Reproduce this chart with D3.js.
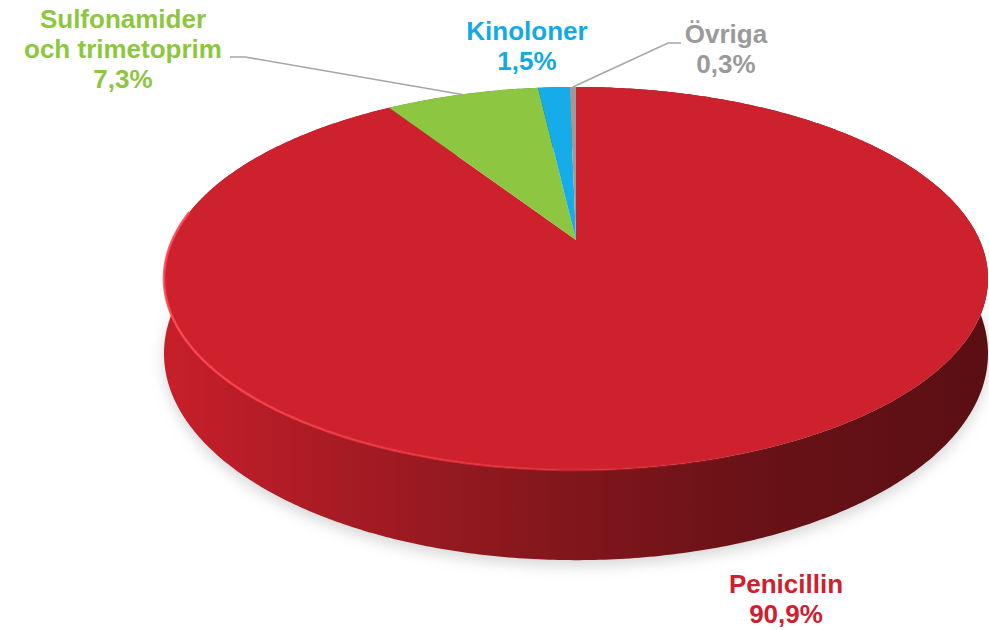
<!DOCTYPE html>
<html>
<head>
<meta charset="utf-8">
<script src="https://cdn.jsdelivr.net/npm/d3@7"></script>
<style>
  body { margin: 0; background: #fff; }
  text { font-family: "Liberation Sans", Arial, sans-serif; font-weight: bold; }
</style>
</head>
<body>
<div id="pie"></div>
<script>
// data
var categories = ["Penicillin", "Sulfonamider och trimetoprim", "Kinoloner", "Övriga"];
var values = [90.9, 7.3, 1.5, 0.3];
var valueLabels = ["90,9%", "7,3%", "1,5%", "0,3%"];

var colors = ["#cd222e", "#8dc641", "#16acea", "#9b9b9b"];
var labelColors = ["#d0202e", "#8dc63f", "#14a9e4", "#9a9a9a"];

var width = 989, height = 630;

// tilted disc: simple perspective mapping of unit circle
var view = { cx: 576, cy: 240, A: 403.6, B: 183.8, p: -0.201, depth: 72 };

function project(a, drop) {
    var u = Math.sin(a), v = -Math.cos(a);
    var k = 1 / (1 + view.p * v);
    return [view.cx + view.A * u * k,
            view.cy + view.B * v * k + (drop ? view.depth * k : 0)];
}

// label layout
var labelPos = [
    { x: 786, y: 593, lines: ["Penicillin"], leader: null },
    { x: 123, y: 28, lines: ["Sulfonamider", "och trimetoprim"], leader: [[230, 57], [245, 57]] },
    { x: 527, y: 40, lines: ["Kinoloner"], leader: null },
    { x: 726, y: 43, lines: ["Övriga"], leader: [[681, 43], [668, 43]] }
];

var svg = d3.select("#pie")
    .append("svg")
    .attr("width", width)
    .attr("height", height);

var defs = svg.append("defs");

defs.append("filter")
    .attr("id", "blur")
    .attr("x", "-20%").attr("y", "-20%")
    .attr("width", "140%").attr("height", "140%")
    .append("feGaussianBlur")
    .attr("stdDeviation", 7);

var sideGrad = defs.append("linearGradient")
    .attr("id", "side-red")
    .attr("gradientUnits", "userSpaceOnUse")
    .attr("x1", 163).attr("x2", 989).attr("y1", 0).attr("y2", 0);
[[0, "#c71f2a"], [0.2, "#aa1b24"], [0.45, "#86171d"], [0.7, "#6a1217"], [1, "#5a0f13"]]
    .forEach(function (s) {
        sideGrad.append("stop").attr("offset", s[0]).attr("stop-color", s[1]);
    });

var rimGrad = defs.append("linearGradient")
    .attr("id", "rim")
    .attr("gradientUnits", "userSpaceOnUse")
    .attr("x1", 163).attr("x2", 989).attr("y1", 0).attr("y2", 0);
[[0, "#ff4a55", 0.9], [0.45, "#f0323d", 0.6], [0.75, "#e02a35", 0.0], [1, "#e02a35", 0]]
    .forEach(function (s) {
        rimGrad.append("stop").attr("offset", s[0])
            .attr("stop-color", s[1]).attr("stop-opacity", s[2]);
    });

var pie = d3.pie().sort(null).startAngle(0).endAngle(2 * Math.PI);
var arcs = pie(values);

function arcPoints(a0, a1, drop) {
    var n = Math.max(2, Math.ceil((a1 - a0) / 0.01));
    var s = d3.scaleLinear().domain([0, n]).range([a0, a1]);
    return d3.range(n + 1).map(function (i) { return project(s(i), drop); });
}

var line = d3.line();

// soft shadow under the disc
var shadowPts = arcPoints(Math.PI * 0.35, Math.PI * 1.65, true)
    .map(function (p) { return [p[0], p[1] + 6]; });
svg.append("path")
    .attr("d", line(shadowPts) + "Z")
    .attr("fill", "#b8b8b8")
    .attr("opacity", 0.55)
    .attr("filter", "url(#blur)");

// side walls
svg.selectAll(".side")
    .data(arcs)
    .enter()
    .append("path")
    .attr("class", "side")
    .attr("d", function (d) {
        var top = arcPoints(d.startAngle, d.endAngle, false);
        var bot = arcPoints(d.startAngle, d.endAngle, true).reverse();
        return line(top.concat(bot)) + "Z";
    })
    .attr("fill", function (d, i) {
        return i === 0 ? "url(#side-red)" : d3.color(colors[i]).darker(1.2);
    });

// top surface
svg.selectAll(".slice")
    .data(arcs)
    .enter()
    .append("path")
    .attr("class", "slice")
    .attr("d", function (d) {
        var pts = [[view.cx, view.cy]].concat(arcPoints(d.startAngle, d.endAngle, false));
        return line(pts) + "Z";
    })
    .attr("fill", function (d, i) { return colors[i]; });

// rim highlight along the front edge
svg.append("path")
    .attr("d", line(arcPoints(Math.PI * 0.45, Math.PI * 1.55, false)))
    .attr("fill", "none")
    .attr("stroke", "url(#rim)")
    .attr("stroke-width", 2.5);

// leader lines
arcs.forEach(function (d, i) {
    var lp = labelPos[i];
    if (!lp.leader) return;
    var mid = project((d.startAngle + d.endAngle) / 2, false);
    svg.append("path")
        .attr("d", line(lp.leader.concat([mid])))
        .attr("fill", "none")
        .attr("stroke", "#a6a6a6")
        .attr("stroke-width", 1.6);
});

// labels
var label = svg.selectAll(".label")
    .data(arcs)
    .enter()
    .append("text")
    .attr("class", "label")
    .attr("text-anchor", "middle")
    .attr("font-size", 26)
    .attr("fill", function (d, i) { return labelColors[i]; });

label.each(function (d, i) {
    var t = d3.select(this);
    var lp = labelPos[i];
    lp.lines.concat([valueLabels[i]]).forEach(function (s, j) {
        t.append("tspan")
            .attr("x", lp.x)
            .attr("y", lp.y + j * 30)
            .text(s);
    });
});
</script>
</body>
</html>
